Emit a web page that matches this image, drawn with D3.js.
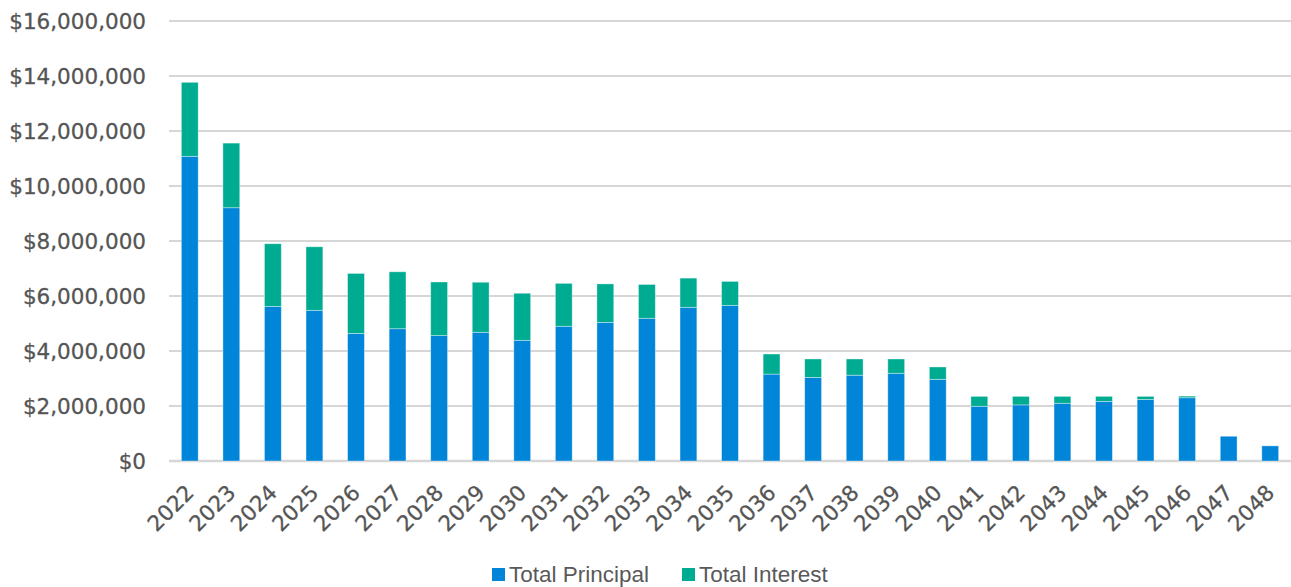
<!DOCTYPE html>
<html><head><meta charset="utf-8">
<script src="https://cdn.jsdelivr.net/npm/d3@7"></script>
<style>
html,body{margin:0;padding:0;background:#fff;}
svg{display:block;}
</style></head>
<body>
<svg id="chart" width="1291" height="587"></svg>
<script>
const years = ["2022","2023","2024","2025","2026","2027","2028","2029","2030","2031","2032","2033","2034","2035","2036","2037","2038","2039","2040","2041","2042","2043","2044","2045","2046","2047","2048"];
const totalPrincipal = [11080000,9210000,5620000,5480000,4640000,4810000,4560000,4680000,4390000,4900000,5040000,5190000,5590000,5660000,3160000,3040000,3120000,3190000,2970000,1990000,2040000,2100000,2170000,2240000,2300000,900000,550000];
const totalInterest = [2690000,2350000,2280000,2310000,2180000,2070000,1950000,1820000,1710000,1560000,1400000,1230000,1060000,870000,730000,670000,590000,520000,450000,360000,310000,250000,180000,110000,60000,0,0];
const yTicks = [0,2000000,4000000,6000000,8000000,10000000,12000000,14000000,16000000];
const seriesNames = ["Total Principal","Total Interest"];
const colors = ["#0085D9","#00AC91"];

(function(){
const svg = d3.select("#chart");
const pLeft = 169, pRight = 1291, pTop = 21, pBottom = 461;
const x = d3.scaleBand().domain(years).range([pLeft, pRight]).paddingInner(0.595).paddingOuter(0.2975);
const y = d3.scaleLinear().domain([0,16000000]).range([pBottom, pTop]);

// gridlines
svg.append("g").selectAll("line").data(yTicks).join("line")
  .attr("x1", pLeft).attr("x2", pRight)
  .attr("y1", d=>y(d)).attr("y2", d=>y(d))
  .attr("stroke", "#d6d6d6").attr("stroke-width", d=> d===0 ? 2.4 : 1.8);

// y axis labels
const fmt = d3.format("$,");
svg.append("g").selectAll("text").data(yTicks).join("text")
  .attr("x", 146).attr("y", d=>y(d)).attr("dy","0.36em")
  .attr("text-anchor","end")
  .attr("font-family","DejaVu Sans, sans-serif").attr("font-size","21.5px")
  .attr("fill","#555555").attr("stroke","#555555").attr("stroke-width",0.3)
  .text(d=>fmt(d));

// stacked bars
const rows = years.map((yr,i)=>({year:yr, p: totalPrincipal[i], n: totalInterest[i]}));
const stack = d3.stack().keys(["p","n"])(rows);
svg.append("g").selectAll("g").data(stack).join("g")
  .attr("fill", (d,i)=>colors[i])
  .selectAll("rect").data(d=>d.filter(s=>s[1]-s[0]>0)).join("rect")
  .attr("x", d=>x(d.data.year)).attr("width", x.bandwidth())
  .attr("y", d=>y(d[1])).attr("height", d=>y(d[0])-y(d[1]))
  .attr("stroke","rgba(255,255,255,0.45)").attr("stroke-width",0.8);

// x labels
svg.append("g").selectAll("text").data(years).join("text")
  .attr("transform", d=>`translate(${x(d)+x.bandwidth()/2+5.5},494) rotate(-45)`)
  .attr("text-anchor","end")
  .attr("font-family","DejaVu Sans, sans-serif").attr("font-size","21.5px")
  .attr("fill","#555555").attr("stroke","#555555").attr("stroke-width",0.3)
  .text(d=>d);

// legend
const legendX = [492, 682];
const lg = svg.append("g").selectAll("g").data(seriesNames).join("g")
  .attr("transform",(d,i)=>`translate(${legendX[i]},568)`);
lg.append("rect").attr("width",13).attr("height",13).attr("fill",(d,i)=>colors[i]);
lg.append("text").attr("x",17).attr("y",13.5)
  .attr("font-family","Liberation Sans, Arial, sans-serif").attr("font-size","22.5px")
  .attr("fill","#595959").text(d=>d);
})();
</script>
</body></html>
